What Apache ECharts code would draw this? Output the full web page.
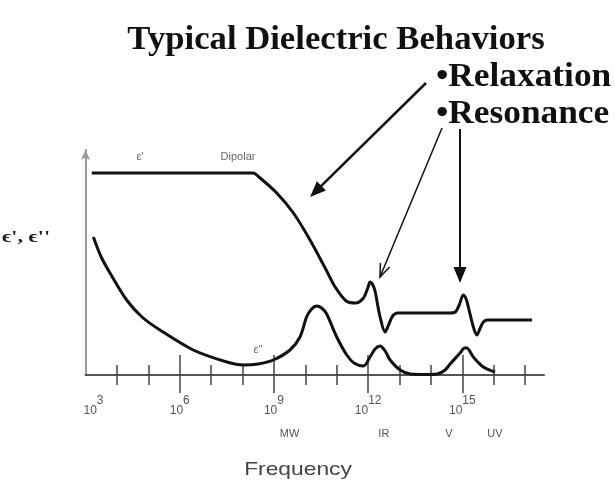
<!DOCTYPE html>
<html><head><meta charset="utf-8">
<script src="https://cdn.jsdelivr.net/npm/echarts@6/dist/echarts.min.js"></script>
<style>html,body{margin:0;padding:0;background:#fff}#c{width:615px;height:488px}</style>
</head><body><div id="c"></div>
<script>
// log10(frequency) and relative permittivity (arbitrary units)
const realLogF = [3.2,8.33,8.56,9.09,9.62,10.15,10.68,10.95,11.3,11.6,11.85,12.0,12.06,12.15,12.22,12.38,12.54,12.65,12.78,12.95,13.5,14.2,14.6,14.78,14.9,15.03,15.12,15.19,15.35,15.46,15.57,15.67,15.8,16.3,17.22];
const realEps  = [202,202,197,182,162,135,104,88,74,72,77,88,93,90,84,58,43,50,59,62,62,62,62,63,70,80,76,68,48,40,47,53,55,55,55];
const lossLogF = [3.25,3.5,3.78,4.31,4.8,5.37,6.43,7.5,8.03,8.5,8.98,9.51,9.83,10.04,10.2,10.36,10.52,10.68,11.0,11.32,11.55,11.85,12.06,12.22,12.38,12.54,12.7,13.02,13.35,13.8,14.2,14.45,14.61,14.93,15.07,15.14,15.35,15.67,16.04];
const lossEps  = [138,118,102,75,58,45,25,13,10,11,15,25,38,58,66,69,67,61,38,20,12,9,18,26,29,24,15,5,1,0.5,1,5,11,22,27,27,18,8,3];
const decadeTicks = [4,5,6,7,8,9,10,11,12,13,14,15,16,17];
const majorTicks = [6,9,12,15];
const labelExps = [3,6,9,12,15];
const bandNames = ['MW','IR','V','UV'];
const bandLogF = [9.5,12.5,14.57,16.04];

const chart = echarts.init(document.getElementById('c'), null, {renderer:'canvas'});
const pair = (xs, ys) => xs.map((x,i)=>[x, ys[i]]);
const base = {type:'value', min:3, max:17.6, position:'bottom', gridIndex:0, splitLine:{show:false}};
const tickColor = '#444';

function arrow(x1,y1,x2,y2,filled,lw){
  const dx=x2-x1, dy=y2-y1, len=Math.hypot(dx,dy), ux=dx/len, uy=dy/len;
  const L = filled?16:13, W = filled?6.5:5;
  const bx = x2-ux*L, by = y2-uy*L, px=-uy, py=ux;
  const p1=[bx+px*W, by+py*W], p2=[bx-px*W, by-py*W];
  const els=[{type:'line', shape:{x1:x1,y1:y1,x2:filled?bx+ux*2:x2,y2:filled?by+uy*2:y2}, style:{stroke:'#111', lineWidth:lw}}];
  if(filled) els.push({type:'polygon', shape:{points:[[x2,y2],p1,p2]}, style:{fill:'#111'}});
  else els.push({type:'polyline', shape:{points:[p1,[x2,y2],p2]}, style:{stroke:'#111', lineWidth:1.5, fill:null}});
  return els;
}
function txt(text, x, y, font, align, fill, scale){
  return {type:'text', x:x, y:y, originX:0, originY:0, scaleX:scale||1,
    style:{text:text, font:font, textAlign:align, textVerticalAlign:'middle', fill:fill||'#111'}};
}

chart.setOption({
  animation:false,
  grid:{left:85.5, right:71, top:150, bottom:113, containLabel:false},
  xAxis:[
    Object.assign({}, base, {
      axisLine:{show:true, lineStyle:{color:'#555', width:2}},
      axisTick:{show:true, inside:true, length:10, customValues:decadeTicks, lineStyle:{color:tickColor, width:1.5}},
      axisLabel:{show:true, customValues:labelExps, margin:20,
        formatter:v => (v===3?'{p|}':'') + '{b|10}{s|' + v + '}',
        rich:{
          p:{width:16},
          b:{fontSize:12, fontFamily:'Liberation Sans', color:'#555', lineHeight:22, verticalAlign:'bottom'},
          s:{fontSize:12, fontFamily:'Liberation Sans', color:'#555', lineHeight:12, verticalAlign:'top'}
        }}
    }),
    Object.assign({}, base, {
      axisLine:{show:false},
      axisTick:{show:true, inside:false, length:10, customValues:decadeTicks, lineStyle:{color:tickColor, width:1.5}},
      axisLabel:{show:true, customValues:bandLogF, margin:53,
        formatter:v => bandNames[bandLogF.indexOf(v)] || '',
        fontSize:11, fontFamily:'Liberation Sans', color:'#555'}
    }),
    Object.assign({}, base, {
      axisLine:{show:false},
      axisTick:{show:true, inside:true, length:20, customValues:majorTicks, lineStyle:{color:tickColor, width:1.5}},
      axisLabel:{show:false}
    }),
    Object.assign({}, base, {
      axisLine:{show:false},
      axisTick:{show:true, inside:false, length:18, customValues:majorTicks, lineStyle:{color:tickColor, width:1.5}},
      axisLabel:{show:false}
    })
  ],
  yAxis:{type:'value', min:0, max:225,
    axisLine:{show:true, lineStyle:{color:'#999', width:2}, symbol:['none','arrow'], symbolSize:[7,10]},
    axisTick:{show:false}, axisLabel:{show:false}, splitLine:{show:false}},
  series:[
    {type:'line', name:"ε'", data:pair(realLogF, realEps), showSymbol:false, smooth:0.3,
     lineStyle:{color:'#111', width:3}, xAxisIndex:0, yAxisIndex:0},
    {type:'line', name:"ε''", data:pair(lossLogF, lossEps), showSymbol:false, smooth:0.3,
     lineStyle:{color:'#111', width:3}, xAxisIndex:0, yAxisIndex:0}
  ],
  graphic:[
    txt('Typical Dielectric Behaviors', 336, 40, 'bold 34px "Liberation Serif"', 'center', '#111', 1.02),
    txt('\u2022Relaxation', 436, 77, 'bold 33px "Liberation Serif"', 'left', '#111', 1.07),
    txt('\u2022Resonance', 436, 114, 'bold 33px "Liberation Serif"', 'left', '#111', 1.07),
    txt("ϵ', ϵ''", 2, 238, 'bold 17px "Liberation Serif"', 'left', '#222', 1.3),
    txt("ε'", 140, 157, '11px "Liberation Sans"', 'center', '#666'),
    txt('Dipolar', 238, 157, '11px "Liberation Sans"', 'center', '#666'),
    txt('ε"', 258, 350, '11px "Liberation Sans"', 'center', '#666'),
    txt('Frequency', 298, 470, '19px "Liberation Sans"', 'center', '#444', 1.2)
  ].concat(arrow(426,83,310,197,true,2.5), arrow(442,128,380,277,false,1.5), arrow(460,129,460,283,true,2))
});
</script></body></html>
